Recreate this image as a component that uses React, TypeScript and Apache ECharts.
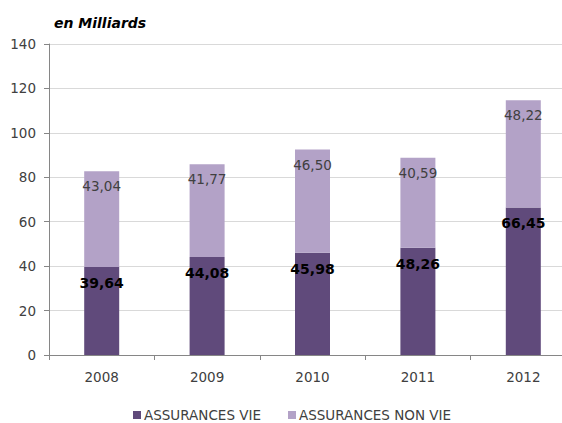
import React, { useEffect, useRef } from "react";
import * as echarts from "echarts";

const years = ["2008", "2009", "2010", "2011", "2012"];
const vie = [39.64, 44.08, 45.98, 48.26, 66.45];
const nonVie = [43.04, 41.77, 46.5, 40.59, 48.22];
const seriesNames = ["ASSURANCES VIE", "ASSURANCES NON VIE"];
const unitTitle = "en Milliards";

const fmt = (v: number) => v.toFixed(2).replace(".", ",");
const FONT = "DejaVu Sans";

export default function App() {
  const ref = useRef<HTMLDivElement>(null);
  useEffect(() => {
    if (!ref.current) return;
    const chart = echarts.init(ref.current, null, { renderer: "svg" });
    chart.setOption({
      animation: false,
      backgroundColor: "#ffffff",
      title: {
        text: unitTitle,
        left: 49,
        top: 11,
        textStyle: {
          fontFamily: FONT,
          fontSize: 14,
          fontWeight: "bold",
          fontStyle: "italic",
          color: "#000000",
        },
      },
      legend: {
        left: 128,
        top: 403,
        icon: "rect",
        itemWidth: 8,
        itemHeight: 8,
        itemGap: 27,
        textStyle: { fontFamily: FONT, fontSize: 13.5, color: "#404040", padding: [0, 0, 0, -2] },
        data: seriesNames,
      },
      grid: { left: 49, width: 527, top: 44, height: 311, containLabel: false },
      xAxis: {
        type: "category",
        data: years,
        axisLine: { lineStyle: { color: "#868686" } },
        axisTick: { show: true, length: 5, lineStyle: { color: "#868686" } },
        axisLabel: { fontFamily: FONT, fontSize: 13.5, color: "#404040", margin: 15 },
      },
      yAxis: {
        type: "value",
        min: 0,
        max: 140,
        interval: 20,
        axisLine: { show: true, lineStyle: { color: "#868686" } },
        axisTick: { show: true, length: 5, lineStyle: { color: "#868686" } },
        axisLabel: { fontFamily: FONT, fontSize: 13.5, color: "#404040", margin: 13 },
        splitLine: { lineStyle: { color: "#d9d9d9" } },
      },
      series: [
        {
          name: seriesNames[0],
          type: "bar",
          stack: "total",
          barWidth: 35,
          data: vie,
          itemStyle: { color: "#604a7b" },
          label: {
            show: true,
            position: "insideTop",
            distance: 9,
            formatter: (p: any) => fmt(p.value),
            fontFamily: FONT,
            fontSize: 14,
            fontWeight: "bold",
            color: "#000000",
          },
        },
        {
          name: seriesNames[1],
          type: "bar",
          stack: "total",
          barWidth: 35,
          data: nonVie,
          itemStyle: { color: "#b3a2c7" },
          label: {
            show: true,
            position: "insideTop",
            distance: 8,
            formatter: (p: any) => fmt(p.value),
            fontFamily: FONT,
            fontSize: 13.5,
            color: "#404040",
          },
        },
      ],
    });
    return () => chart.dispose();
  }, []);
  return (
    <div
      style={{
        position: "absolute",
        left: 0,
        top: 0,
        width: 562,
        height: 423,
        overflow: "hidden",
        background: "#ffffff",
      }}
    >
      <div ref={ref} style={{ width: 600, height: 423 }} />
    </div>
  );
}
